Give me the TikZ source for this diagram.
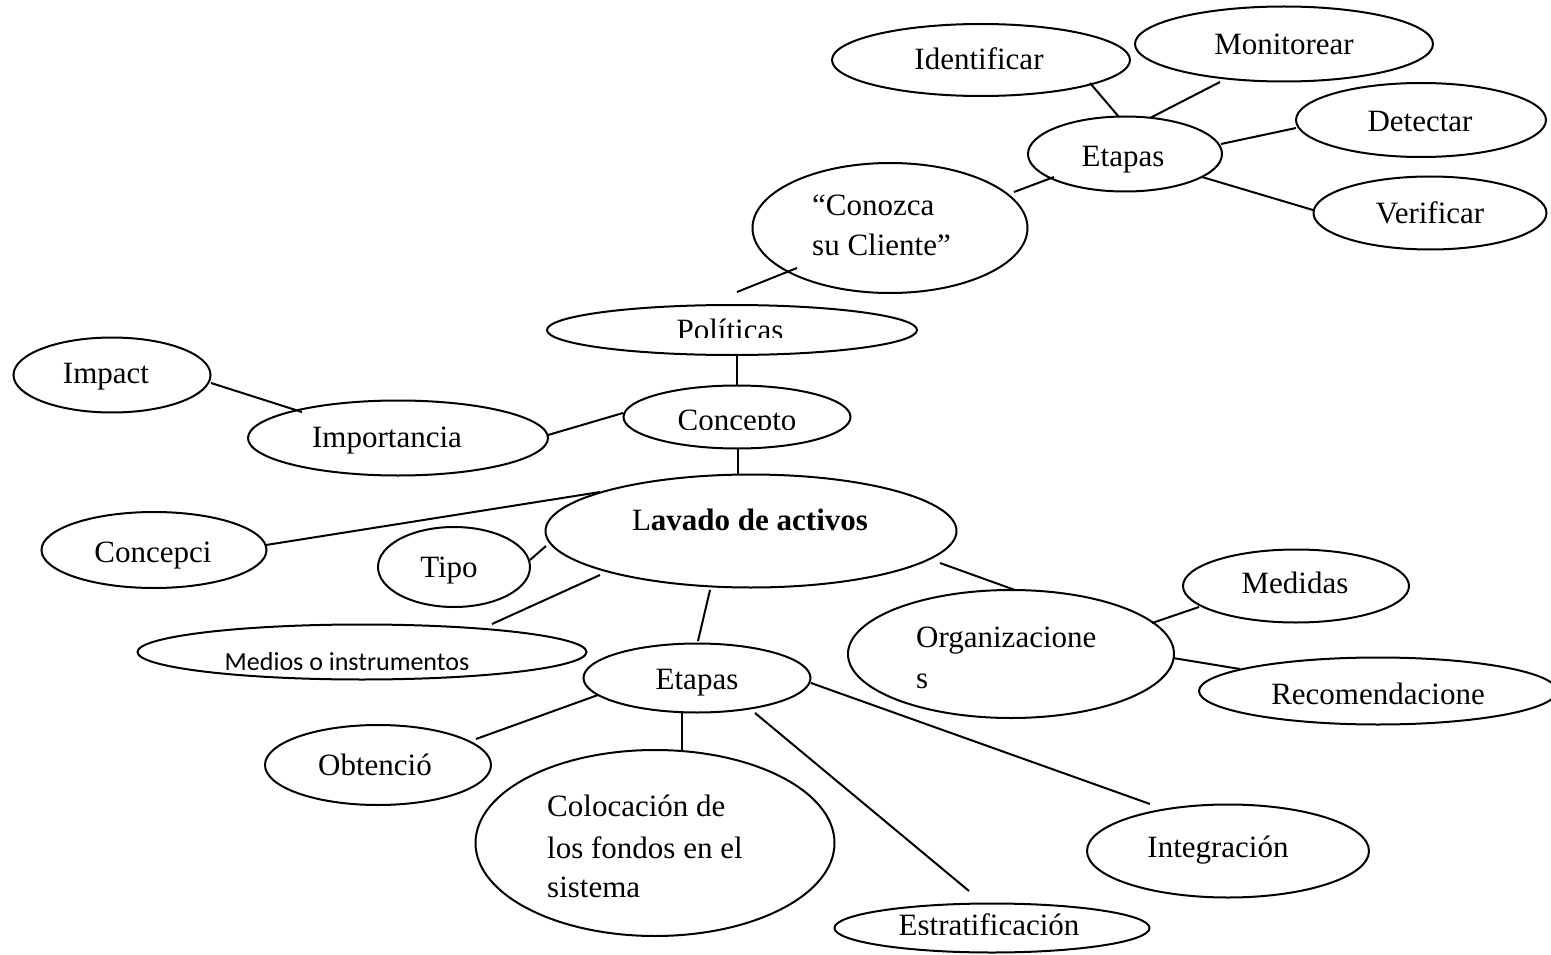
\documentclass[tikz,border=0pt]{standalone}
\usepackage{fontspec}
\setmainfont{Liberation Serif}
\newfontfamily\calibrifont{Carlito}
\usetikzlibrary{shapes.geometric,calc}
\begin{document}
\begin{tikzpicture}[x=1pt,y=-1pt,
  ell/.style={draw, ellipse, line width=2pt, inner sep=0pt},
  txt/.style={inner sep=0pt, anchor=base, font=\fontsize{31}{37}\selectfont},
  ltxt/.style={txt, anchor=base west},
  conn/.style={line width=2pt}]
\useasboundingbox (0,0) rectangle (1551,955);

% ellipses
\node[ell, minimum width=298pt, minimum height=72pt]  (ident)    at (981,60)   {};
\node[ell, minimum width=298pt, minimum height=75pt]  (monit)    at (1284,44)  {};
\node[ell, minimum width=250pt, minimum height=74pt]  (detec)    at (1421,120) {};
\node[ell, minimum width=194pt, minimum height=75pt]  (etT)      at (1125,154) {};
\node[ell, minimum width=233pt, minimum height=73pt]  (verif)    at (1430,213) {};
\node[ell, minimum width=275pt, minimum height=130pt] (conoz)    at (890,228)  {};
\node[ell, minimum width=370pt, minimum height=50pt]  (polit)    at (732,330)  {};
\node[ell, minimum width=197pt, minimum height=75pt]  (impact)   at (112,375)  {};
\node[ell, minimum width=300pt, minimum height=75pt]  (import)   at (398,438)  {};
\node[ell, minimum width=227pt, minimum height=63pt]  (concep)   at (737,417)  {};
\node[ell, minimum width=411pt, minimum height=113pt] (lavado)   at (751,531)  {};
\node[ell, minimum width=225pt, minimum height=76pt]  (concepci) at (154,550)  {};
\node[ell, minimum width=152pt, minimum height=80pt]  (tipo)     at (454,567)  {};
\node[ell, minimum width=449pt, minimum height=55pt]  (medios)   at (362,652)  {};
\node[ell, minimum width=227pt, minimum height=69pt]  (etB)      at (697,678)  {};
\node[ell, minimum width=326pt, minimum height=128pt] (organ)    at (1011,654) {};
\node[ell, minimum width=226pt, minimum height=73pt]  (medid)    at (1296,586) {};
\node[ell, minimum width=358pt, minimum height=67pt]  (recom)    at (1378,691) {};
\node[ell, minimum width=282pt, minimum height=93pt]  (integ)    at (1228,851) {};
\node[ell, minimum width=226pt, minimum height=80pt]  (obten)    at (378,765)  {};
\node[ell, minimum width=359pt, minimum height=186pt] (coloc)    at (655,843)  {};
\node[ell, minimum width=315pt, minimum height=49pt]  (estrat)   at (992,928)  {};

% texts
\node[txt] (t-ident) at (979,70)  {Identificar};
\node[txt] (t-monit) at (1284,55) {Monitorear};
\node[txt] (t-detec) at (1420,132) {Detectar};
\node[txt] (t-etT)   at (1123,167) {Etapas};
\node[txt] (t-verif) at (1430,223) {Verificar};
\node[ltxt] (t-conozA) at (812,215) {“Conozca};
\node[ltxt] (t-conozB) at (812,255) {su Cliente”};
\begin{scope}
  \clip (0,0) rectangle (1551,337);
  \node[txt] (t-polit) at (730,340) {Políticas};
\end{scope}
\node[txt] (t-impact) at (106,383) {Impact};
\node[txt] (t-import) at (387,447) {Importancia};
\begin{scope}
  \clip (0,0) rectangle (1551,429);
  \node[txt] (t-concep) at (737,430) {Concepto};
\end{scope}
\node[txt] (t-lavado) at (750,530) {L\textbf{avado de activos}};
\node[txt] (t-concepci) at (153,562) {Concepci};
\node[txt] (t-tipo) at (449,577) {Tipo};
\begin{scope}
  \clip (0,0) rectangle (1551,669);
  \node[txt, font=\calibrifont\fontsize{26}{32}\selectfont] (t-medios) at (347,670) {Medios o instrumentos};
\end{scope}
\node[txt] (t-etB) at (697,689) {Etapas};
\node[ltxt] (t-organA) at (916,647) {Organizacione};
\node[ltxt] (t-organB) at (916,688) {s};
\node[txt] (t-medid) at (1295,593) {Medidas};
\node[txt] (t-recom) at (1378,704) {Recomendacione};
\node[txt] (t-integ) at (1218,857) {Integración};
\node[txt] (t-obten) at (375,775) {Obtenció};
\node[ltxt] (t-colocA) at (547,816) {Colocación de};
\node[ltxt] (t-colocB) at (547,858) {los fondos en el};
\node[ltxt] (t-colocC) at (547,897) {sistema};
\begin{scope}
  \clip (0,0) rectangle (1551,934);
  \node[txt] (t-estrat) at (989,935) {Estratificación};
\end{scope}

% connectors
\draw[conn] ($(etT.center)+(-6,-37)$) -- ($(ident.center)+(109,23)$);
\draw[conn] ($(etT.center)+(25,-36)$) -- ($(monit.center)+(-64,38)$);
\draw[conn] ($(etT.center)+(96,-10)$) -- ($(detec.center)+(-125,8)$);
\draw[conn] ($(etT.center)+(77,23)$) -- ($(verif.center)+(-117,-3)$);
\draw[conn] ($(conoz.center)+(124,-36)$) -- ($(etT.center)+(-71,23)$);
\draw[conn] ($(conoz.center)+(-93,40)$) -- ($(polit.center)+(5,-38)$);
\draw[conn] ($(polit.center)+(5,25)$) -- ($(concep.center)+(0,-32)$);
\draw[conn] ($(impact.center)+(99,8)$) -- ($(import.center)+(-96,-26)$);
\draw[conn] ($(import.center)+(150,-3)$) -- ($(concep.center)+(-114,-4)$);
\draw[conn] ($(concep.center)+(1,31)$) -- ($(lavado.center)+(-13,-56)$);
\draw[conn] ($(concepci.center)+(112,-5)$) -- ($(lavado.center)+(-151,-39)$);
\draw[conn] ($(tipo.center)+(76,-7)$) -- ($(lavado.center)+(-205,15)$);
\draw[conn] ($(medios.center)+(130,-28)$) -- ($(lavado.center)+(-151,44)$);
\draw[conn] ($(lavado.center)+(-41,59)$) -- ($(etB.center)+(1,-37)$);
\draw[conn] ($(lavado.center)+(189,32)$) -- ($(organ.center)+(4,-64)$);
\draw[conn] ($(organ.center)+(141,-31)$) -- ($(medid.center)+(-97,21)$);
\draw[conn] ($(organ.center)+(162,4)$) -- ($(recom.center)+(-138,-22)$);
\draw[conn] ($(etB.center)+(-99,17)$) -- ($(obten.center)+(98,-26)$);
\draw[conn] ($(etB.center)+(-15,34)$) -- ($(coloc.center)+(27,-93)$);
\draw[conn] ($(etB.center)+(58,35)$) -- ($(estrat.center)+(-23,-37)$);
\draw[conn] ($(etB.center)+(114,5)$) -- ($(integ.center)+(-78,-47)$);
\end{tikzpicture}
\end{document}
